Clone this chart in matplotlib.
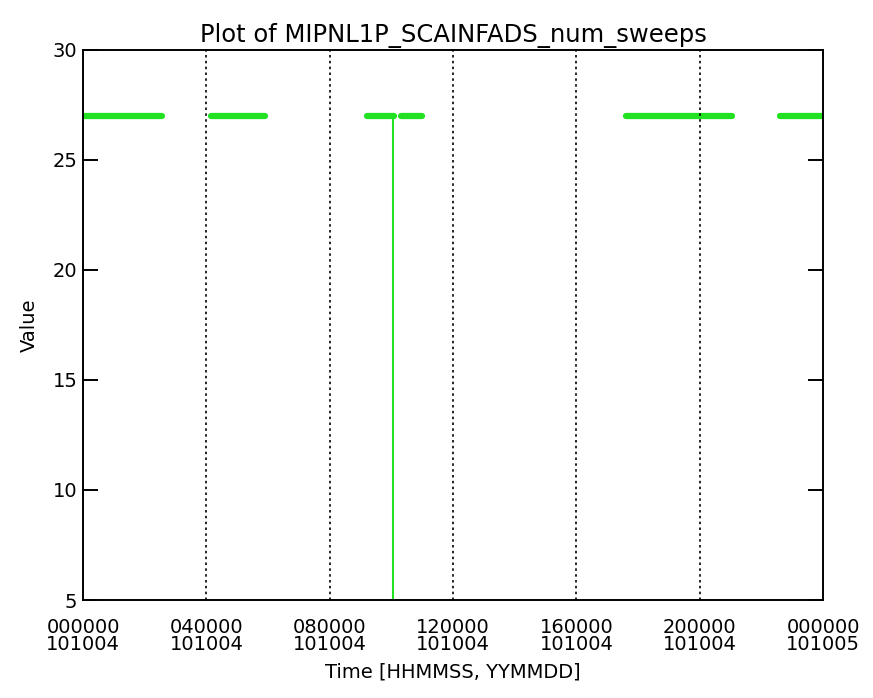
import numpy as np
import matplotlib.pyplot as plt

# runs of num_sweeps = 27, hours since 000000 101004
seg_start = [0.0, 4.15, 9.2, 10.3, 17.6, 22.6]
seg_end = [2.57, 5.9, 10.1, 11.0, 21.05, 24.0]
seg_value = [27, 27, 27, 27, 27, 27]

# single drop to zero
drop_time = [10.05, 10.05]
drop_value = [27, 0]

tick_hours = [0, 4, 8, 12, 16, 20, 24]
tick_labels = ["000000\n101004", "040000\n101004", "080000\n101004",
               "120000\n101004", "160000\n101004", "200000\n101004",
               "000000\n101005"]
grid_hours = [4, 8, 12, 16, 20]

plt.rcParams['font.family'] = ['DejaVu Sans']

fig = plt.figure(figsize=(8.73, 6.98), dpi=100)
ax = fig.add_axes([0.0951, 0.1404, 0.8477, 0.788])

green = "#22e022"
for s, e, v in zip(seg_start, seg_end, seg_value):
    ax.plot([s, e], [v, v], color=green, lw=4.5, solid_capstyle="round")
ax.plot(drop_time, drop_value, color=green, lw=1.5)

for h in grid_hours:
    ax.axvline(h, color="black", ls=(0, (1.5, 2)), lw=1.2)

ax.set_xlim(0, 24)
ax.set_ylim(5, 30)
ax.set_xticks(tick_hours)
ax.set_xticklabels(tick_labels, fontsize=14, linespacing=0.88)
ax.set_yticks([5, 10, 15, 20, 25, 30])
ax.tick_params(axis="y", direction="in", length=11, width=1.4, right=True,
               labelsize=14, pad=4)
ax.tick_params(axis="x", direction="in", length=0, labelsize=14, pad=13)
for sp in ax.spines.values():
    sp.set_linewidth(1.4)

ax.set_title("Plot of MIPNL1P_SCAINFADS_num_sweeps", fontsize=17.5, pad=6)
ax.set_xlabel("Time [HHMMSS, YYMMDD]", fontsize=14, labelpad=6)
ax.set_ylabel("Value", fontsize=14, labelpad=10)

fig.savefig("out.png", dpi=100)
